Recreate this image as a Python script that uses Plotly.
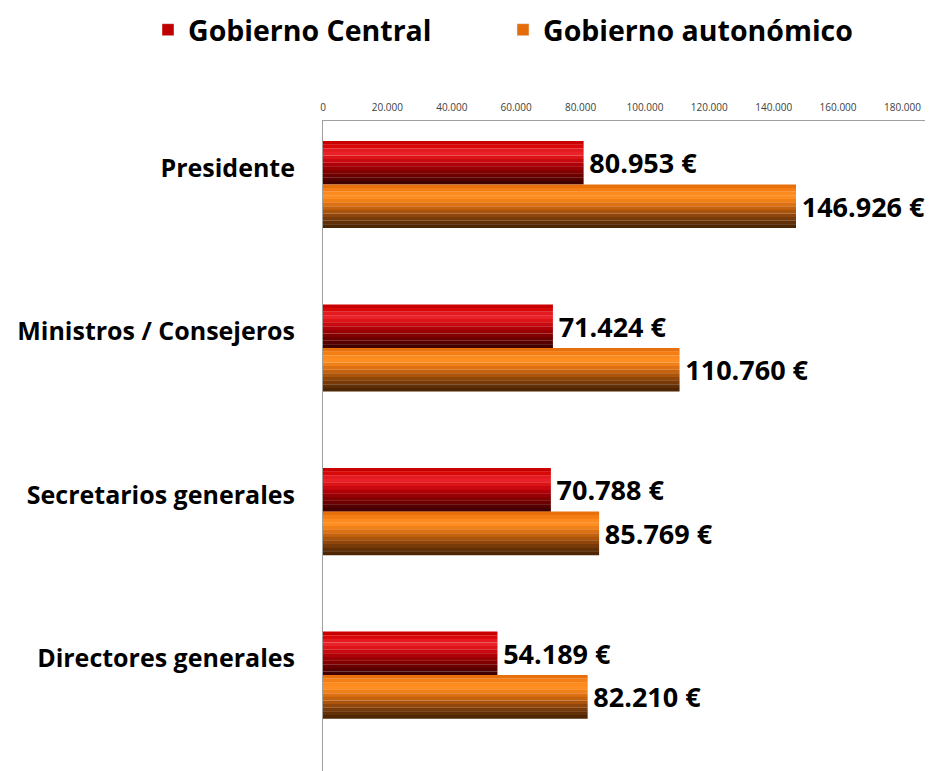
import plotly.graph_objects as go

categories = ["Presidente", "Ministros / Consejeros", "Secretarios generales", "Directores generales"]
central = [80953, 71424, 70788, 54189]
autonomico = [146926, 110760, 85769, 82210]
series_names = ["Gobierno Central", "Gobierno autonómico"]
tick_vals = [0, 20000, 40000, 60000, 80000, 100000, 120000, 140000, 160000, 180000]

red_grad = ["#c80000", "#d80808", "#e41a20", "#e82228", "#dc1418", "#c80a10", "#b00008",
            "#980004", "#820000", "#6c0000", "#560000", "#420000"]
orange_grad = ["#e8700c", "#f47e14", "#fc8a1e", "#fe8e22", "#f08018", "#dc7012", "#c4620e",
               "#aa540c", "#90460a", "#783a08", "#623006", "#4e2604"]

BW = 0.266
OFF0 = -0.165
FONT = "Open Sans"

fig = go.Figure()

def add_series(vals, grad, offset0, name, legend_color, legend_id):
    n = len(grad)
    w = BW / n
    for i, c in enumerate(grad):
        fig.add_trace(go.Bar(
            y=categories, x=vals, orientation="h",
            width=w * 1.04, offset=offset0 + i * w,
            marker=dict(color=c, line=dict(width=0)),
            showlegend=False, hoverinfo="skip",
        ))
    # transparent full bar carrying the value label
    fig.add_trace(go.Bar(
        y=categories, x=vals, orientation="h",
        width=BW, offset=offset0,
        marker=dict(color="rgba(0,0,0,0)", line=dict(width=0)),
        texttemplate="\u200a%{x:,} €", textposition="outside",
        textfont=dict(family=FONT, size=27, color="#000000", weight="bold"),
        cliponaxis=False, showlegend=False, name=name,
    ))
    fig.add_trace(go.Bar(
        y=[None], x=[None], orientation="h", name=name,
        marker=dict(color=legend_color), showlegend=True, legend=legend_id,
    ))

add_series(central, red_grad, OFF0, series_names[0], "#c00000", "legend")
add_series(autonomico, orange_grad, OFF0 + BW, series_names[1], "#e46c0a", "legend2")

legend_font = dict(family=FONT, size=28.5, color="#000000", weight="bold")
fig.update_layout(
    width=932, height=763,
    paper_bgcolor="white", plot_bgcolor="white",
    margin=dict(l=315, r=15, t=113, b=0, autoexpand=False),
    barmode="overlay",
    separators=",.",
    font=dict(family=FONT, color="#000000"),
    legend=dict(
        orientation="h", x=140 / 932, xref="container", xanchor="left",
        y=0.971, yref="container", yanchor="middle",
        font=legend_font,
    ),
    legend2=dict(
        orientation="h", x=495 / 932, xref="container", xanchor="left",
        y=0.971, yref="container", yanchor="middle",
        font=legend_font,
    ),
    showlegend=True,
)

fig.update_xaxes(
    side="top", range=[0, 187000],
    tickvals=tick_vals, tickformat=",d",
    tickfont=dict(family=FONT, size=10, color="#404040"),
    showgrid=False, zeroline=False,
    showline=True, linecolor="#a0a0a0", linewidth=1,
    ticks="", ticklabelstandoff=5, fixedrange=True,
)
fig.update_yaxes(
    type="category", categoryorder="array", categoryarray=categories,
    range=[3.688, -0.287],
    tickfont=dict(family=FONT, size=25, color="#000000", weight="bold"),
    showgrid=False, zeroline=False,
    showline=True, linecolor="#a0a0a0", linewidth=1,
    ticks="", ticklabelstandoff=22, fixedrange=True,
)

fig.write_html("out.html")
